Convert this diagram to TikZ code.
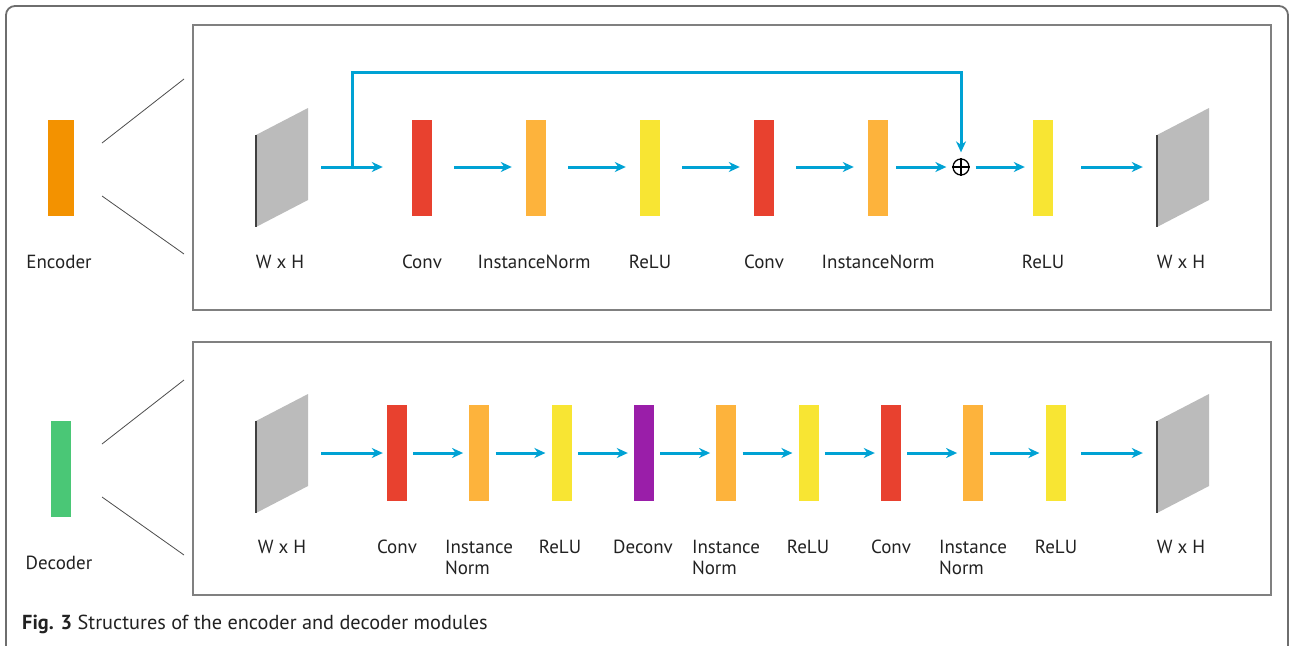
\documentclass[tikz,border=0pt]{standalone}
\usepackage{fontspec}
\setmainfont{PT Sans}
\usetikzlibrary{arrows.meta,calc}

\definecolor{encorange}{HTML}{F39200}
\definecolor{decgreen}{HTML}{4AC776}
\definecolor{convred}{HTML}{E8412F}
\definecolor{normorange}{HTML}{FDB33C}
\definecolor{reluyellow}{HTML}{F8E533}
\definecolor{deconvpurple}{HTML}{9A1EA9}
\definecolor{sheetgray}{HTML}{BBBBBB}
\definecolor{flowblue}{HTML}{00A2D4}
\definecolor{framegray}{HTML}{6E6E6E}
\definecolor{boxgray}{HTML}{808080}
\definecolor{txt}{HTML}{222222}

\tikzset{
  bar/.style={rectangle, minimum width=20pt, minimum height=96pt, inner sep=0pt, draw=none},
  sheetnode/.style={rectangle, minimum width=52pt, minimum height=119pt, inner sep=0pt, draw=none},
  flow/.style={draw=flowblue, line width=3pt, -{Stealth[length=11pt,width=10pt,inset=3.5pt]}},
  lbl/.style={anchor=base, text=txt, font=\fontsize{19}{21}\selectfont, inner sep=0pt},
  zoomline/.style={draw=black!70, line width=0.8pt},
  module/.style={draw=boxgray, line width=1.4pt},
}

% gray feature-map sheet drawn around a named placeholder node
\newcommand{\featuresheet}[1]{%
  \begin{scope}[shift={(#1.center)}]
    \fill[sheetgray] (-26,-32.5) -- (26,-59.5) -- (26,32.5) -- (-26,59.5) -- cycle;
    \draw[black!75, line width=1.1pt] (-26,-32.5) -- (-26,59.5);
  \end{scope}}

\begin{document}
\begin{tikzpicture}[x=1pt, y=-1pt]
\useasboundingbox (0,0) rectangle (1290,645);
\clip (0,0) rectangle (1290,645);

% outer frame
\draw[framegray, line width=1.8pt, rounded corners=9pt] (6,6) rectangle (1288,700);

% module frames
\draw[module] (193,25) rectangle (1271,310);
\draw[module] (193,342) rectangle (1271,595);

% ---------------- encoder ----------------
\node[bar, fill=encorange, minimum width=26pt] (enc) at (61,168) {};
\node[lbl] (enctxt) at (59,268) {Encoder};
\coordinate (encA) at (102,143);
\coordinate (encB) at (184,79);
\coordinate (encC) at (102,196);
\coordinate (encD) at (184,254);
\draw[zoomline] (encA) -- (encB);
\draw[zoomline] (encC) -- (encD);

\node[sheetnode] (ein) at (282,167.5) {};
\node[sheetnode] (eout) at (1183,167.5) {};
\featuresheet{ein}
\featuresheet{eout}

\node[bar, fill=convred]     (e1) at (422,168) {};
\node[bar, fill=normorange]  (e2) at (536,168) {};
\node[bar, fill=reluyellow]  (e3) at (650,168) {};
\node[bar, fill=convred]     (e4) at (764,168) {};
\node[bar, fill=normorange]  (e5) at (878,168) {};
\node[bar, fill=reluyellow]  (e6) at (1043,168) {};
\node[circle, draw=black, line width=1.3pt, minimum size=16pt, inner sep=0pt] (sum) at (961,167) {};
\draw[black, line width=1.3pt] (sum.north) -- (sum.south) (sum.west) -- (sum.east);

\draw[flow, shorten <=13pt, shorten >=29pt] (ein.east |- 0,167) -- (e1.west |- 0,167);
\draw[flow, shorten <=22pt, shorten >=14pt] (e1.east |- 0,167) -- (e2.west |- 0,167);
\draw[flow, shorten <=22pt, shorten >=14pt] (e2.east |- 0,167) -- (e3.west |- 0,167);
\draw[flow, shorten <=22pt, shorten >=14pt] (e3.east |- 0,167) -- (e4.west |- 0,167);
\draw[flow, shorten <=22pt, shorten >=14pt] (e4.east |- 0,167) -- (e5.west |- 0,167);
\draw[flow, shorten <=8pt, shorten >=6pt] (e5.east |- 0,167) -- (sum.west);
\draw[flow, shorten <=6pt, shorten >=8pt] (sum.east) -- (e6.west |- 0,167);
\draw[flow, shorten <=28pt, shorten >=14pt] (e6.east |- 0,167) -- (eout.west |- 0,167);

% residual skip connection
\coordinate (split) at (352,167);
\coordinate (skiptop) at (352,72);
\draw[flow, shorten >=6pt] (split) -- (skiptop) -| (sum.north);

\node[lbl] (tl0) at (280,268) {W x H};
\node[lbl] (tl1) at (422,268) {Conv};
\node[lbl] (tl2) at (534,268) {InstanceNorm};
\node[lbl] (tl3) at (650,268) {ReLU};
\node[lbl] (tl4) at (764,268) {Conv};
\node[lbl] (tl5) at (878,268) {InstanceNorm};
\node[lbl] (tl6) at (1043,268) {ReLU};
\node[lbl] (tl7) at (1181,268) {W x H};

% ---------------- decoder ----------------
\node[bar, fill=decgreen] (dec) at (61,469) {};
\node[lbl] (dectxt) at (59,569) {Decoder};
\coordinate (decA) at (102,444);
\coordinate (decB) at (184,380);
\coordinate (decC) at (102,497);
\coordinate (decD) at (184,555);
\draw[zoomline] (decA) -- (decB);
\draw[zoomline] (decC) -- (decD);

\node[sheetnode] (din) at (282,453.5) {};
\node[sheetnode] (dout) at (1183,453.5) {};
\featuresheet{din}
\featuresheet{dout}

\node[bar, fill=convred]      (d1) at (397,453) {};
\node[bar, fill=normorange]   (d2) at (479.3,453) {};
\node[bar, fill=reluyellow]   (d3) at (561.6,453) {};
\node[bar, fill=deconvpurple] (d4) at (644,453) {};
\node[bar, fill=normorange]   (d5) at (726.3,453) {};
\node[bar, fill=reluyellow]   (d6) at (808.6,453) {};
\node[bar, fill=convred]      (d7) at (891,453) {};
\node[bar, fill=normorange]   (d8) at (973.3,453) {};
\node[bar, fill=reluyellow]   (d9) at (1055.6,453) {};

\draw[flow, shorten <=13pt, shorten >=4pt] (din.east |- 0,453) -- (d1.west);
\foreach \a/\b in {d1/d2,d2/d3,d3/d4,d4/d5,d5/d6,d6/d7,d7/d8,d8/d9}
  \draw[flow, shorten <=6pt, shorten >=6pt] (\a.east) -- (\b.west);
\draw[flow, shorten <=15pt, shorten >=14pt] (d9.east) -- (dout.west |- 0,453);

\node[lbl] (bl0) at (282,553) {W x H};
\node[lbl] (bl1) at (397,553) {Conv};
\node[lbl] (bl2) at (479,553) {Instance};
\node[lbl, anchor=base west] (bl2b) at ($(bl2.base west)+(0,21)$) {Norm};
\node[lbl] (bl3) at (560,553) {ReLU};
\node[lbl] (bl4) at (643,553) {Deconv};
\node[lbl] (bl5) at (726,553) {Instance};
\node[lbl, anchor=base west] (bl5b) at ($(bl5.base west)+(0,21)$) {Norm};
\node[lbl] (bl6) at (808,553) {ReLU};
\node[lbl] (bl7) at (891,553) {Conv};
\node[lbl] (bl8) at (973,553) {Instance};
\node[lbl, anchor=base west] (bl8b) at ($(bl8.base west)+(0,21)$) {Norm};
\node[lbl] (bl9) at (1056,553) {ReLU};
\node[lbl] (bl10) at (1181,553) {W x H};

% caption
\node[lbl, anchor=base west, font=\fontsize{20.3}{22}\selectfont] (cap) at (22,629) {\textbf{Fig. 3} Structures of the encoder and decoder modules};
\end{tikzpicture}
\end{document}
